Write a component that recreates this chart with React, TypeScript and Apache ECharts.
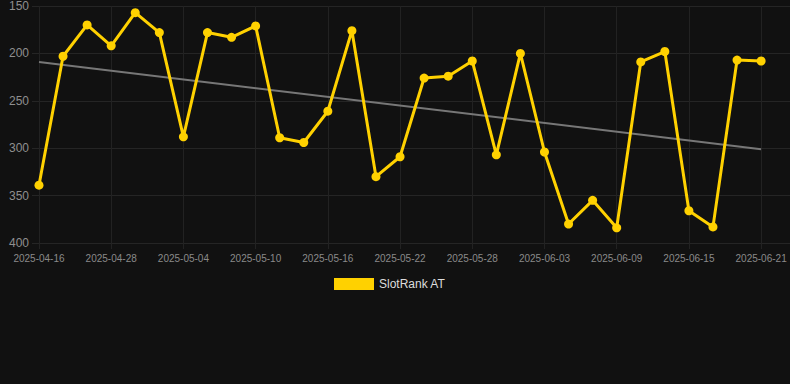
import React, { useEffect, useRef } from "react";
import * as echarts from "echarts";

const dates = [
  "2025-04-16", "2025-04-20", "2025-04-24", "2025-04-28", "2025-04-30", "2025-05-02",
  "2025-05-04", "2025-05-06", "2025-05-08", "2025-05-10", "2025-05-12", "2025-05-14",
  "2025-05-16", "2025-05-18", "2025-05-20", "2025-05-22", "2025-05-24", "2025-05-26",
  "2025-05-28", "2025-05-30", "2025-06-01", "2025-06-03", "2025-06-05", "2025-06-07",
  "2025-06-09", "2025-06-11", "2025-06-13", "2025-06-15", "2025-06-17", "2025-06-19",
  "2025-06-21",
];

const rankValues = [
  339, 203, 170, 192, 157, 178, 288, 178, 183, 171, 289, 294, 261, 176, 330, 309,
  226, 224, 208, 307, 200, 304, 380, 355, 384, 209, 198, 366, 383, 207, 208,
];

const labelIndices = [0, 3, 6, 9, 12, 15, 18, 21, 24, 27, 30];
const trendStartEnd = [209, 301];
const yTicks = [150, 400, 50];
const seriesName = "SlotRank AT";

export default function App() {
  const ref = useRef<HTMLDivElement>(null);
  useEffect(() => {
    document.body.style.margin = "0";
    document.body.style.background = "#111111";
    if (!ref.current) return;
    const chart = echarts.init(ref.current, null, { renderer: "svg" });
    const last = rankValues.length - 1;
    chart.setOption({
      animation: false,
      backgroundColor: "#111111",
      grid: { left: 32, right: 0, top: 6, bottom: 141, containLabel: false },
      legend: {
        data: [seriesName],
        top: 273,
        left: 329,
        icon: "rect",
        itemWidth: 40,
        itemHeight: 12,
        itemGap: 5,
        textStyle: { color: "#dddddd", fontSize: 12, fontFamily: "Liberation Sans, Arial, sans-serif" },
      },
      xAxis: {
        type: "value",
        min: -0.29,
        max: 31.2,
        axisLine: { show: false },
        axisTick: { show: true, customValues: labelIndices, length: 6, lineStyle: { color: "#222222" } },
        axisLabel: {
          customValues: labelIndices,
          formatter: (v: number) => dates[Math.round(v)] ?? "",
          color: "#8a8a8a",
          fontSize: 10,
          margin: 10,
          fontFamily: "Liberation Sans, Arial, sans-serif",
        },
        splitLine: { show: true, lineStyle: { color: "#222222", width: 1 } },
      },
      yAxis: {
        type: "value",
        inverse: true,
        min: yTicks[0],
        max: yTicks[1],
        interval: yTicks[2],
        axisLine: { show: false },
        axisTick: { show: false },
        axisLabel: {
          color: "#8f8f8f",
          fontSize: 12,
          margin: 3,
          fontFamily: "Liberation Sans, Arial, sans-serif",
        },
        splitLine: { show: true, lineStyle: { color: "#252525", width: 1 } },
      },
      series: [
        {
          name: "trend",
          type: "line",
          data: [
            [0, trendStartEnd[0]],
            [last, trendStartEnd[1]],
          ],
          symbol: "none",
          lineStyle: { color: "#777777", width: 2 },
          z: 1,
          silent: true,
        },
        {
          name: seriesName,
          type: "line",
          data: rankValues.map((v, i) => [i, v]),
          symbol: "circle",
          symbolSize: 9,
          itemStyle: { color: "#FFD100" },
          lineStyle: { color: "#FFD100", width: 3 },
          z: 2,
        },
      ],
    });
    return () => chart.dispose();
  }, []);
  return <div ref={ref} style={{ width: 790, height: 384 }} />;
}
